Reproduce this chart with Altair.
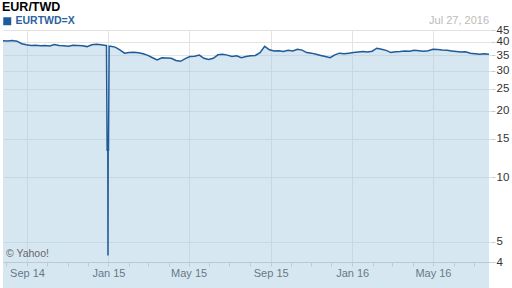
import altair as alt
import pandas as pd

# ---- data (weekly closes, EUR/TWD) ----
title_text = ["EUR/TWD"]
series_name = "EURTWD=X"
date_text = ["Jul 27, 2016"]
credit_text = ["\u00a9 Yahoo!"]

week_start = "2014-07-27"
weekly_values = [
    40.5, 40.4, 40.6, 40.3, 39.3, 38.9, 38.6, 38.7, 38.5, 38.6,
    38.4, 39.0, 38.6, 38.5, 38.3, 38.7, 38.6, 38.5, 38.2, 38.9,
    39.1, 38.9, 38.6,
    38.3, 38.0, 37.0, 35.8, 36.0, 36.1, 35.9, 35.6, 35.0, 34.2,
    33.5, 34.2, 34.1, 34.0, 33.3, 33.0, 33.9, 34.6, 34.7, 35.1,
    34.0, 33.6, 34.0, 35.2, 35.4, 35.1, 34.6, 34.9, 34.2, 34.6,
    34.9, 35.0, 36.0, 38.3, 37.0, 36.6, 36.7, 36.4, 36.8, 36.6,
    37.2, 36.9, 36.0, 35.8, 35.4, 35.0, 34.6, 34.2, 35.2, 35.8,
    35.6, 35.8, 36.0, 36.2, 36.4, 36.2, 36.5, 37.6, 37.2, 36.8,
    36.0, 36.3, 36.4, 36.6, 36.5, 36.8, 36.7, 36.5, 36.7, 37.2,
    37.1, 36.9, 36.8, 36.6, 36.4, 36.2, 36.3, 35.8, 35.6, 35.4,
    35.6, 35.4,
]

# the bad-tick spike around new year 2015 (box at ~13.3 with a needle to ~4.3)
spike_dates = ["2014-12-29T00:00", "2014-12-30T00:00", "2014-12-31T00:00", "2014-12-31T06:00",
               "2014-12-31T12:00", "2015-01-01T00:00", "2015-01-02T00:00"]
spike_values = [38.6, 13.3, 13.3, 4.3, 13.3, 13.3, 38.3]

y_ticks = [4, 5, 10, 15, 20, 25, 30, 35, 40, 45]

weekly_dates = pd.date_range(week_start, periods=len(weekly_values), freq="7D")
spike_ts = pd.to_datetime(spike_dates, format="%Y-%m-%dT%H:%M")
df = pd.DataFrame({"date": list(weekly_dates) + list(spike_ts),
                   "rate": weekly_values + spike_values})
df = df.sort_values("date").reset_index(drop=True)
df["series"] = series_name
df["date"] = df["date"].dt.strftime("%Y-%m-%dT%H:%M")

month_ticks = [alt.DateTime(year=2014 + (7 + i) // 12, month=(7 + i) % 12 + 1, date=1)
               for i in range(24)]

W, H = 488, 232
BLUE = "#1f5b98"
FONT = "Liberation Sans"

x_enc = alt.X(
    "date:T",
    title=None,
    scale=alt.Scale(domain=[alt.DateTime(year=2014, month=7, date=27),
                            alt.DateTime(year=2016, month=7, date=27)]),
    axis=alt.Axis(
        values=month_ticks,
        labelExpr="month(datum.value) % 4 == 0 ? timeFormat(datum.value, '%b %y') : ''",
        gridOpacity={"condition": {"test": "month(datum.value) % 4 == 0", "value": 1}, "value": 0},
        grid=True, gridColor="#e3e3e3",
        domainColor="#cccccc", tickColor="#cccccc", tickSize=4,
        labelColor="#333333", labelFontSize=11, labelFont=FONT, labelPadding=1,
        labelOverlap=False, labelFlush=False,
    ),
)
y_enc = alt.Y(
    "rate:Q",
    title=None,
    scale=alt.Scale(type="pow", exponent=0.05, domain=[4, 45], zero=False, nice=False),
    axis=alt.Axis(
        orient="right", values=y_ticks, grid=True, gridColor="#e3e3e3",
        domain=False, tickColor="#cccccc", tickSize=4, labelPadding=1,
        labelColor="#333333", labelFontSize=11.5, labelFont=FONT,
        labelOverlap=False, labelFlush=False,
    ),
)

area = alt.Chart(df).mark_area(color="#a5c9e3", opacity=0.45).encode(
    x=x_enc, y=y_enc, y2=alt.value(H)
)
line = alt.Chart(df).mark_line(strokeWidth=1.5).encode(
    x=x_enc, y=y_enc,
    color=alt.Color(
        "series:N",
        scale=alt.Scale(range=[BLUE]),
        legend=alt.Legend(
            title=None, orient="none", legendX=-1, legendY=-14,
            symbolType="square", symbolSize=64, symbolFillColor=BLUE,
            symbolStrokeWidth=0, labelColor="#2a62a0", labelFontSize=10.5,
            labelFontWeight="bold", labelFont=FONT, labelOffset=3, padding=0,
        ),
    ),
)

title = alt.Chart(pd.DataFrame({"t": title_text})).mark_text(
    align="left", baseline="alphabetic", fontSize=12.5, fontWeight="bold",
    font=FONT, color="#000000"
).encode(x=alt.value(-1), y=alt.value(-19), text="t:N")

stamp = alt.Chart(pd.DataFrame({"t": date_text})).mark_text(
    align="right", baseline="alphabetic", fontSize=11, font=FONT, color="#bbbbbb"
).encode(x=alt.value(W - 2), y=alt.value(-6), text="t:N")

credit = alt.Chart(pd.DataFrame({"t": credit_text})).mark_text(
    align="left", baseline="alphabetic", fontSize=10.5, font=FONT, color="#666666"
).encode(x=alt.value(3), y=alt.value(H - 5), text="t:N")

chart = alt.layer(area, line, title, stamp, credit).properties(
    width=W, height=H,
    autosize=alt.AutoSizeParams(type="none"),
    padding={"left": 3, "top": 30, "right": 21, "bottom": 26},
).configure_view(stroke=None)

chart.save("out.html", embed_options={"renderer": "svg", "actions": False})
